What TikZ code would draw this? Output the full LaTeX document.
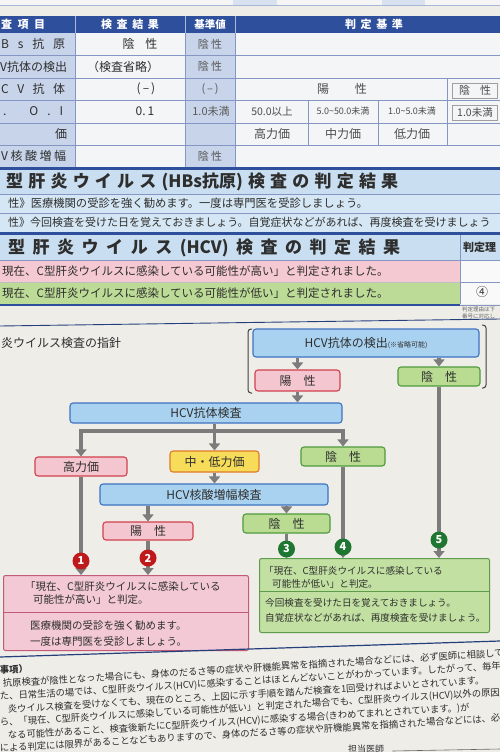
\documentclass[tikz,border=0pt]{standalone}
\usepackage{fontspec}
\setmainfont{Noto Sans CJK JP}
\usetikzlibrary{arrows.meta}
\definecolor{bg}{HTML}{EEEDE8}
\definecolor{hdr}{HTML}{2E4F9C}
\definecolor{cellb}{HTML}{C8D4EA}
\definecolor{cellw}{HTML}{F4F5F7}
\definecolor{gridc}{HTML}{8596C4}
\definecolor{band}{HTML}{C9DFF1}
\definecolor{bandl}{HTML}{D5E7F4}
\definecolor{txt}{HTML}{2E2E2E}
\definecolor{bluef}{HTML}{A9D2F0}
\definecolor{blued}{HTML}{3F72C0}
\definecolor{pinkf}{HTML}{F4C6CF}
\definecolor{pinkd}{HTML}{D2404E}
\definecolor{greenf}{HTML}{B9DC92}
\definecolor{greend}{HTML}{4E9A3C}
\definecolor{yelf}{HTML}{F6DC58}
\definecolor{yeld}{HTML}{E07A2A}
\definecolor{arr}{HTML}{7C7C7C}
\definecolor{numr}{HTML}{C0191C}
\definecolor{numg}{HTML}{1E7630}
\definecolor{respf}{HTML}{F2C9D4}
\definecolor{respd}{HTML}{C25A78}
\definecolor{resgf}{HTML}{C2E0A2}
\definecolor{resgd}{HTML}{5E9C4C}
\definecolor{rowp}{HTML}{F5C9D2}
\definecolor{rowg}{HTML}{BCDB96}
\tikzset{
  fs/.style={font=\fontsize{#1}{#1}\selectfont},
  lbl/.style={inner sep=0pt, text=txt},
  fbox/.style={draw, rounded corners=3pt, line width=1.1pt, inner sep=0pt, text=txt, font=\fontsize{12}{12}\selectfont},
  bluebox/.style={fbox, fill=bluef, draw=blued},
  pinkbox/.style={fbox, fill=pinkf, draw=pinkd},
  greenbox/.style={fbox, fill=greenf, draw=greend},
  yelbox/.style={fbox, fill=yelf, draw=yeld},
  flowarr/.style={draw=arr, line width=3.5pt, -{Triangle[width=11pt,length=7pt]}},
  numc/.style={circle, inner sep=0pt, minimum size=17pt, text=white, font=\bfseries\fontsize{11}{11}\selectfont},
  resbox/.style={rounded corners=2pt, line width=1pt, inner sep=0pt, anchor=north west},
  note/.style={anchor=base west, inner sep=0pt, rotate=3.5, text=txt, font=\fontsize{9.3}{9.3}\selectfont},
  hdrtxt/.style={inner sep=0pt, text=white, font=\bfseries\fontsize{11}{11}\selectfont},
}
\begin{document}
\begin{tikzpicture}[x=1pt,y=-1pt]
\useasboundingbox (0,0) rectangle (500,752);
\fill[bg] (0,0) rectangle (500,752);
% top strip
\fill[white!92!gray] (0,0) rectangle (500,5);
\fill[cellb!70!white] (233,0) rectangle (277,5);
\fill[cellb!70!white] (382,0) rectangle (425,5);
\draw[gridc!70, line width=0.6pt] (0,5.5) -- (500,5.5);
% header
\fill[hdr] (0,16) rectangle (500,33);
\draw[white!60!hdr, line width=0.6pt] (75,16)--(75,33) (185,16)--(185,33) (235,16)--(235,33);
\node[hdrtxt, anchor=west] (h1) at (1,24.5) {\makebox[44pt][s]{査 項 目}};
\node[hdrtxt] (h2) at (130,24.5) {\makebox[58pt][s]{検 査 結 果}};
\node[hdrtxt, font=\bfseries\fontsize{10.5}{10.5}\selectfont] (h3) at (210,24.5) {基準値};
\node[hdrtxt] (h4) at (374,24.5) {\makebox[58pt][s]{判 定 基 準}};
% cells
\fill[cellb] (0,33) rectangle (75,167);
\fill[cellw] (75,33) rectangle (185,167);
\fill[cellb] (185,33) rectangle (235,167);
\fill[cellw] (235,33) rectangle (500,167);
\foreach \yy in {55,78,100,123,145} \draw[gridc, line width=0.7pt] (0,\yy) -- (500,\yy);
\draw[gridc, line width=0.7pt] (75,33)--(75,167) (185,33)--(185,167) (235,33)--(235,167);
\draw[gridc, line width=0.6pt] (308,100)--(308,145) (378,100)--(378,145) (447,78)--(447,145);
\draw[gray!75, line width=0.7pt] (452,83) rectangle (497,98) (452,105) rectangle (497,120);
% col1
\node[lbl, anchor=west, fs=12] (a1) at (1,44) {\makebox[64pt][s]{B s 抗 原}};
\node[lbl, anchor=west, fs=12] (a2) at (0,66.5) {V抗体の検出};
\node[lbl, anchor=west, fs=12] (a3) at (1,89) {\makebox[64pt][s]{C V 抗 体}};
\node[lbl, anchor=west, fs=12] (a4) at (3,111.5) {\makebox[60pt][s]{. O . I}};
\node[lbl, fs=12] (a5) at (61,134) {価};
\node[lbl, anchor=west, fs=12] (a6) at (1,156) {\makebox[65pt][s]{V 核 酸 増 幅}};
% col2
\node[lbl, fs=12] (b1) at (140,44) {陰\hspace{11pt}性};
\node[lbl, fs=12] (b2) at (123,66.5) {（検査省略）};
\node[lbl, fs=12] (b3) at (146,89) {(\,–\,)};
\node[lbl, fs=12] (b4) at (145,111.5) {0.\,1};
% col3
\node[lbl, fs=11, text=black!65] (d1) at (210,44) {陰 性};
\node[lbl, fs=11, text=black!65] (d2) at (210,66.5) {陰 性};
\node[lbl, fs=11, text=black!65] (d3) at (210,89) {(\,–\,)};
\node[lbl, fs=11, text=black!65] (d4) at (211,111.5) {1.0未満};
\node[lbl, fs=11, text=black!65] (d6) at (210,156) {陰 性};
% col4
\node[lbl, fs=12, text=black!70] (e1) at (342,89) {\makebox[50pt][s]{陽 性}};
\node[lbl, fs=11, text=black!70] (e2) at (475,90.5) {\makebox[32pt][s]{陰 性}};
\node[lbl, fs=10.5, text=black!70] (e3) at (272,111.5) {50.0以上};
\node[lbl, fs=9, text=black!70] (e4) at (343,111.5) {5.0\textasciitilde 50.0未満};
\node[lbl, fs=9, text=black!70] (e5) at (412,111.5) {1.0\textasciitilde 5.0未満};
\node[lbl, fs=10.5, text=black!70] (e6) at (475,112.5) {1.0未満};
\node[lbl, fs=12, text=black!70] (e7) at (272,134) {高力価};
\node[lbl, fs=12, text=black!70] (e8) at (343,134) {中力価};
\node[lbl, fs=12, text=black!70] (e9) at (412,134) {低力価};
% HBs section
\fill[hdr] (0,167) rectangle (500,170);
\fill[band] (0,170) rectangle (500,194);
\fill[bandl] (0,194) rectangle (500,232);
\draw[gridc, line width=0.7pt] (0,194) -- (500,194) (0,213) -- (500,213);
\node[lbl, anchor=west, font=\bfseries\fontsize{17}{17}\selectfont] (hbs) at (6,182) {\makebox[392pt][s]{型 肝 炎 ウ イ ル ス (HBs抗原) 検 査 の 判 定 結 果}};
\node[lbl, anchor=west, fs=11.3] (hbs1) at (8,203.5) {性》医療機関の受診を強く勧めます。一度は専門医を受診しましょう。};
\node[lbl, anchor=west, fs=11] (hbs2) at (8,222.5) {性》今回検査を受けた日を覚えておきましょう。自覚症状などがあれば、再度検査を受けましょう};
% HCV section
\fill[hdr] (0,232) rectangle (500,235);
\fill[band] (0,235) rectangle (500,260);
\fill[rowp] (0,260) rectangle (460,282);
\fill[rowg] (0,282) rectangle (460,304);
\fill[white!95!gray] (460,260) rectangle (500,304);
\draw[gridc, line width=0.7pt] (460,235) -- (460,304) (0,260) -- (500,260) (460,282) -- (500,282);
\draw[gray!50, line width=0.5pt] (0,282) -- (460,282);
\fill[hdr] (0,304) rectangle (460,306);
\draw[gridc, line width=0.7pt] (460,305) -- (500,305);
\node[lbl, anchor=west, font=\bfseries\fontsize{17}{17}\selectfont] (hcv) at (8,248) {\makebox[392pt][s]{型 肝 炎 ウ イ ル ス (HCV) 検 査 の 判 定 結 果}};
\node[lbl, anchor=west, font=\bfseries\fontsize{11}{11}\selectfont] (hr) at (463,247) {判定理};
\node[lbl, anchor=west, fs=11.5] (hcv1) at (2,271) {現在、C型肝炎ウイルスに感染している可能性が高い」と判定されました。};
\node[lbl, anchor=west, fs=11.5] (hcv2) at (2,293) {現在、C型肝炎ウイルスに感染している可能性が低い」と判定されました。};
\node[lbl, fs=12] (four) at (482,292) {④};
\node[lbl, anchor=west, fs=5.5, text=black!60] (tiny1) at (462,309.5) {判定理由は下};
\node[lbl, anchor=west, fs=5.5, text=black!60] (tiny2) at (462,316) {番号に対応し};
% guideline section
\draw[hdr!80!black, line width=0.9pt] (0,326) -- (500,319);
\node[lbl, anchor=west, fs=12] (gtitle) at (1,343) {炎ウイルス検査の指針};
\draw[black!75, line width=1pt, rounded corners=3pt] (252,329) -- (248,329) -- (248,393) -- (252,393);
\draw[black!75, line width=1pt, rounded corners=3pt] (482,325) -- (486,325) -- (486,388) -- (482,388);
% flow boxes
\node[bluebox, minimum width=226pt, minimum height=28pt] (det) at (366,343) {HCV抗体の検出{\fontsize{7}{7}\selectfont (※省略可能)}};
\node[pinkbox, minimum width=85pt, minimum height=21pt] (pos1) at (297.5,380.5) {陽\hspace{12pt}性};
\node[greenbox, minimum width=82pt, minimum height=19pt] (neg1) at (439,376.5) {陰\hspace{12pt}性};
\node[bluebox, minimum width=272pt, minimum height=20pt] (ab) at (206,413) {HCV抗体検査};
\node[pinkbox, minimum width=92pt, minimum height=19pt] (high) at (81,466.5) {高力価};
\node[yelbox, minimum width=89pt, minimum height=21pt] (mid) at (214.5,461.5) {中・低力価};
\node[greenbox, minimum width=84pt, minimum height=19pt] (neg2) at (343,456.5) {陰\hspace{12pt}性};
\node[bluebox, minimum width=228pt, minimum height=21pt] (nat) at (214,494.5) {HCV核酸増幅検査};
\node[pinkbox, minimum width=90pt, minimum height=18pt] (pos2) at (148,531) {陽\hspace{12pt}性};
\node[greenbox, minimum width=87pt, minimum height=19pt] (neg3) at (286.5,523.5) {陰\hspace{12pt}性};
% result boxes
\node[resbox, fill=respf, draw=respd, minimum width=245pt, minimum height=75pt] (rp) at (3,575) {};
\node[resbox, fill=resgf, draw=resgd, minimum width=230pt, minimum height=74pt] (rg) at (259,558) {};
\draw[respd, line width=0.8pt] (rp.west |- 0,612) -- (rp.east |- 0,612);
\draw[resgd, line width=0.8pt] (rg.west |- 0,591) -- (rg.east |- 0,591);
\node[lbl, anchor=west, fs=10.5] (rp1) at (25,587) {「現在、C型肝炎ウイルスに感染している};
\node[lbl, anchor=west, fs=10.5] (rp2) at (33,600) {可能性が高い」と判定。};
\node[lbl, anchor=west, fs=10.5] (rp3) at (30,626) {医療機関の受診を強く勧めます。};
\node[lbl, anchor=west, fs=10.5] (rp4) at (30,641) {一度は専門医を受診しましょう。};
\node[lbl, anchor=west, fs=9.6] (rg1) at (264,571) {「現在、C型肝炎ウイルスに感染している};
\node[lbl, anchor=west, fs=9.6] (rg2) at (272,584) {可能性が低い」と判定。};
\node[lbl, anchor=west, fs=9.6] (rg3) at (265,603) {今回検査を受けた日を覚えておきましょう。};
\node[lbl, anchor=west, fs=9.6] (rg4) at (265,618) {自覚症状などがあれば、再度検査を受けましょう。};
% connectors
\draw[flowarr] (det.south -| pos1.north) -- (pos1.north);
\draw[flowarr] (det.south -| neg1.north) -- (neg1.north);
\draw[flowarr] (pos1.south) -- (pos1.south |- ab.north);
\draw[flowarr] (ab.south -| mid.north) -- (mid.north);
\draw[flowarr, {Triangle[width=11pt,length=7pt]}-{Triangle[width=11pt,length=7pt]}, line join=miter] (high.north) -- (high.north |- 0,431) -- (neg2.north |- 0,431) -- (neg2.north);
\draw[flowarr] (mid.south) -- (mid.south |- nat.north);
\draw[flowarr] (nat.south -| pos2.north) -- (pos2.north);
\draw[flowarr] (nat.south -| neg3.north) -- (neg3.north);
\draw[flowarr] (high.south) -- (high.south |- rp.north);
\draw[flowarr] (pos2.south) -- (pos2.south |- rp.north);
\draw[flowarr] (neg3.south) -- (neg3.south |- rg.north);
\draw[flowarr] (neg2.south) -- (neg2.south |- rg.north);
\draw[flowarr] (neg1.south) -- (neg1.south |- rg.north);
\node[numc, fill=numr] (n1) at (81,561) {1};
\node[numc, fill=numr] (n2) at (148,558) {2};
\node[numc, fill=numg] (n3) at (286.5,549) {3};
\node[numc, fill=numg] (n4) at (343,547) {4};
\node[numc, fill=numg] (n5) at (439,540) {5};
% bottom notes
\draw[hdr!80!black, line width=1.2pt] (0,657) -- (500,641);
\node[note, font=\bfseries\fontsize{9.3}{9.3}\selectfont] (m0) at (0,674) {事項）};
\node[note] (m1) at (3,687) {抗原検査が陰性となった場合にも、身体のだるさ等の症状や肝機能異常を指摘された場合などには、必ず医師に相談して};
\node[note] (m2) at (0,700) {た、日常生活の場では、C型肝炎ウイルス(HCV)に感染することはほとんどないことがわかっています。したがって、毎年く};
\node[note] (m3) at (8,713) {炎ウイルス検査を受けなくても、現在のところ、上図に示す手順を踏んだ検査を1回受ければよいとされています。};
\node[note] (m4) at (0,726) {ら、「現在、C型肝炎ウイルスに感染している可能性が低い」と判定された場合でも、C型肝炎ウイルス(HCV)以外の原因};
\node[note] (m5) at (8,739) {なる可能性があること、検査後新たにC型肝炎ウイルス(HCV)に感染する場合(きわめてまれとされています。)が};
\node[note] (m6) at (0,752) {による判定には限界があることなどもありますので、身体のだるさ等の症状や肝機能異常を指摘された場合などには、必};
\node[lbl, anchor=base west, fs=9] (doc) at (348,752) {担当医師};
\draw[black!60, line width=0.6pt] (doc.east |- 0,751) ++(8,0) -- (500,749);
\end{tikzpicture}
\end{document}
